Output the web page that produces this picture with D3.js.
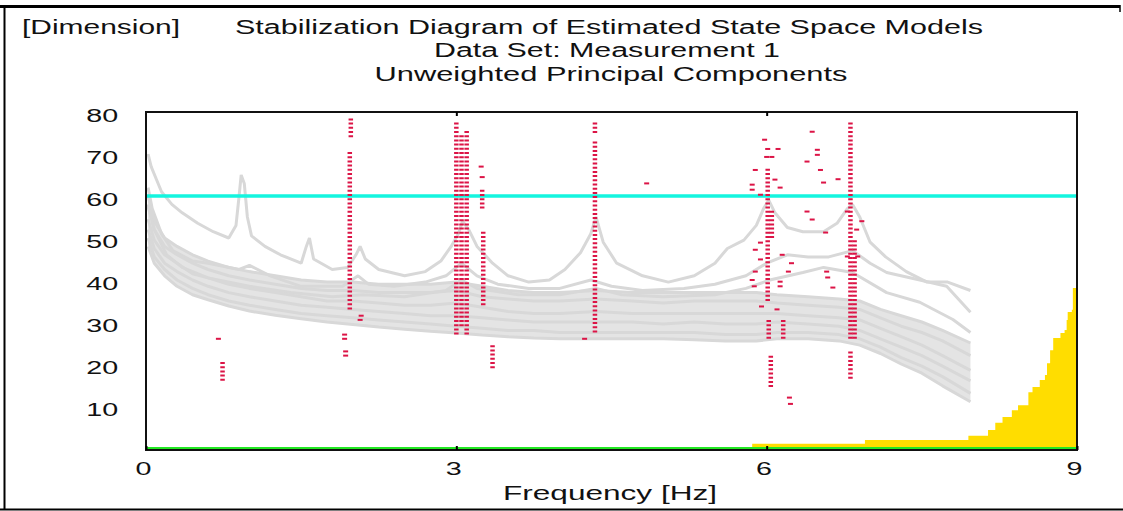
<!DOCTYPE html>
<html>
<head>
<meta charset="utf-8">
<title>Stabilization Diagram</title>
<script src="https://d3js.org/d3.v7.min.js"></script>
<style>
  body { margin: 0; background: #fff; }
  text { font-family: "Liberation Sans", Arial, sans-serif; fill: #111; }
  .axis path { display: none; }
  .axis line { stroke: #000; stroke-width: 2; }
</style>
</head>
<body>
<script>
// ---- data ----
var xTicks = [0, 3, 6, 9];
var yTicks = [10, 20, 30, 40, 50, 60, 70, 80];
var stableLevel = 60;

// highest spectrum line [Hz, dim]
var grayTop = [[0.02,70],[0.05,67],[0.1,64],[0.15,61],[0.25,58],[0.35,56],[0.5,53.5],[0.65,51.5],[0.8,50],[0.87,53],[0.9,60],[0.92,65],[0.95,63],[0.98,55],[1.02,50.5],[1.15,48],[1.3,46],[1.5,44],[1.55,48],[1.58,50],[1.62,45],[1.8,42.5],[1.95,43],[2.03,46],[2.07,48],[2.12,45],[2.25,42.5],[2.5,41],[2.7,42],[2.85,44.5],[2.95,48],[3.02,51],[3.06,54],[3.12,52],[3.2,48],[3.35,44],[3.5,41],[3.7,39.5],[3.9,40],[4.05,42.5],[4.2,46.5],[4.3,51],[4.35,55],[4.42,49],[4.55,44],[4.8,41],[5.05,39.5],[5.3,41],[5.5,44],[5.62,47.5],[5.78,49.5],[5.9,53],[5.97,57],[6.02,59],[6.08,56],[6.2,52.5],[6.35,51.5],[6.55,51.5],[6.68,53.5],[6.78,57],[6.83,58],[6.9,55],[7.0,49],[7.15,45.5],[7.35,42],[7.55,39.5],[7.75,39.5],[7.97,37.5]];
var graySecond = [[0.02,62],[0.06,57],[0.15,51],[0.26,47],[0.45,44.5],[0.6,44],[0.9,42.5],[1.0,43.5],[1.2,41],[1.5,38.5],[1.7,38.5],[1.9,38.5],[2.05,41],[2.15,39],[2.4,38.5],[2.7,39.5],[2.9,41],[3.05,44],[3.2,41],[3.4,39],[3.7,38],[4.0,38],[4.3,40],[4.5,38.5],[4.8,37.5],[5.2,38],[5.5,39],[5.8,41],[6.0,44],[6.2,46],[6.4,45.5],[6.6,45.5],[6.83,47],[7.0,44],[7.16,41.8],[7.48,40],[7.74,38.5],[7.97,32.3]];
var grayThird = [[0.02,58],[0.08,52],[0.2,46],[0.35,43],[0.6,40.5],[1.0,38.5],[1.4,37],[1.8,36],[2.1,36.5],[2.5,36],[2.9,37.5],[3.05,40],[3.2,38],[3.6,36.5],[4.0,36.5],[4.35,38],[4.6,36.5],[5.0,36],[5.5,36.5],[5.8,38],[6.03,40],[6.35,41.8],[6.55,43],[6.83,41.8],[7.16,37],[7.48,34.7],[7.8,30.6],[7.97,27.5]];

// the dense band of lower spectra: envelope and a few lines inside it
var bandFreq  = [0.02,0.08,0.18,0.3,0.45,0.6,0.8,1.0,1.25,1.5,1.75,2.0,2.25,2.5,2.75,3.0,3.25,3.5,3.75,4.0,4.35,4.7,5.0,5.3,5.6,5.9,6.1,6.4,6.7,6.9,7.1,7.3,7.5,7.7,7.97];
var bandUpper = [60,54,50,48,46,44.5,43,42,41,40,39.5,39.5,39,39,39,39.5,38.5,37.5,37,37,37.5,37,37,37,37,37,36.5,36,35.5,35,33,31.5,30,28,25];
var bandLine1 = [57.5,52,48,46,44,42.5,41,40,39,38,37.5,37.5,37,37,37,37.5,36,35.5,35,35,35.5,35,34.5,35,35,35,34.5,34,33.5,33,31,29,27.5,25.5,22];
var bandLine2 = [54.5,49.5,46,44,41.5,40.5,39,38,37,36,35,35,34.5,34,34,34.5,33.5,32.5,32,32,32.5,32,32,32,32,32,32,31.5,31,30.5,28.5,26.5,24.5,22,18.5];
var bandLine3 = [52,47.5,44,42,40,38.5,37,36,35,34,33.5,33,32.5,32,31.5,31.5,31,30.5,30,30,30,30,29.5,30,29.5,29.5,30,29.5,29,28,26,24,22,19.5,16];
var bandLine4 = [50,45.5,42.5,40,38,36.5,35,34,33,32,31.5,31,30.5,30,29.5,29,28.5,28,28,27.5,27.5,27.5,27.5,27.5,27,27,27.5,27.5,27,26,24,21.5,19.5,17,13];
var bandLower = [48,44,41,38.5,36.5,35.3,33.8,32.6,31.6,30.8,30,29.4,28.8,28.3,27.8,27.4,26.9,26.5,26.2,26,26,26,26,25.8,25.5,25.5,26,26,25.5,24.5,22.5,20,17.8,14.8,11];

// stable pole stacks: frequency, lowest dim, highest dim
var stackFreq = [0.74, 1.97, 1.98, 3.00, 3.05, 3.10, 3.25, 3.26, 3.35, 4.34, 4.34, 6.01, 6.05, 6.02, 6.04, 6.16, 6.81, 6.85, 6.81];
var stackLow  = [16, 33, 74, 27, 29, 27, 57, 34, 19, 27.5, 75, 35, 50, 26, 14.5, 26, 26, 26, 16.5];
var stackHigh = [20.5, 71, 79, 78, 75, 76, 62, 51.5, 25, 73, 78, 67, 57, 31, 22, 31, 78, 50, 23.5];

// isolated poles [Hz, dim]
var singlePoles = [[0.70,26],[1.92,27],[1.92,26],[1.93,23],[1.93,22],[2.07,30.5],[2.08,31.5],[3.24,67],[3.25,64.5],[4.24,26],[4.84,63],
  [5.98,73.4],[6.01,71.2],[6.11,71.2],[6.00,69.3],[6.05,69.3],[5.89,66.2],[5.86,62.7],[5.86,61.5],[5.94,60.3],[6.08,63.9],[6.13,62],
  [6.44,75.3],[6.49,71],[6.49,69.8],[6.39,68.2],[6.52,66.2],[6.55,63.2],[6.69,64],[6.39,56.3],[6.44,54.4],[6.57,51.3],
  [5.94,48.9],[5.89,47.2],[5.94,44.9],[5.89,42],[5.86,40],[5.88,38.5],[6.15,46],[6.24,44],[6.21,42],[6.13,39.6],[6.13,38.5],
  [6.58,42],[6.59,40.6],[6.64,38.2],[5.95,33.7],[6.1,33],[6.22,12],[6.23,10.5],[6.92,54],[6.87,52],[6.78,56.3],[6.78,45.6],[6.88,45.6]];

// yellow step area
var yellowFreq = [5.86, 6.95, 7.95, 8.14, 8.21, 8.28, 8.37, 8.43, 8.53, 8.57, 8.64, 8.69, 8.71, 8.74, 8.77, 8.84, 8.88, 8.90, 8.91, 8.95, 8.96, 9.0];
var yellowDim  = [1, 1.9, 2.9, 4.3, 6, 7.4, 9, 10.2, 13.3, 14.5, 16.2, 17.4, 20.2, 23.3, 26.2, 27.4, 28.1, 30.5, 32.4, 32.9, 38.1, 38.1];

// ---- drawing ----
var W = 1123, H = 511;
var svg = d3.select("body").append("svg")
    .attr("width", W).attr("height", H);
svg.append("rect").attr("width", W).attr("height", H).attr("fill", "#fff");

var x = d3.scaleLinear().domain([0, 9]).range([146, 1077]);
var y = d3.scaleLinear().domain([0, 80]).range([448, 112]);

var line = d3.line().x(function(d){ return x(d[0]); }).y(function(d){ return y(d[1]); });
var gray = "#d8d8d8";

// band fill between envelope lines
var bandArea = d3.area()
    .x(function(d){ return x(d[0]); })
    .y0(function(d){ return y(d[2]); })
    .y1(function(d){ return y(d[1]); });
svg.append("path")
    .datum(bandFreq.map(function(f, i){ return [f, bandUpper[i], bandLower[i]]; }))
    .attr("d", bandArea)
    .attr("fill", "#e4e4e4");

var grayLines = [grayThird, graySecond, grayTop];
[bandUpper, bandLine1, bandLine2, bandLine3, bandLine4, bandLower].forEach(function(b) {
    grayLines.push(bandFreq.map(function(f, i){ return [f, b[i]]; }));
});

svg.append("g").selectAll("path").data(grayLines).enter()
    .append("path")
    .attr("d", line)
    .attr("fill", "none")
    .attr("stroke", gray)
    .attr("stroke-width", 3)
    .attr("stroke-linejoin", "bevel");

// cyan stability threshold
svg.append("line")
    .attr("x1", x(0)).attr("x2", x(9))
    .attr("y1", y(stableLevel)).attr("y2", y(stableLevel))
    .attr("stroke", "#14f5df").attr("stroke-width", 3.5);

// red stacks
var red = "#dc1446";
svg.append("g").selectAll("line").data(stackFreq).enter()
    .append("line")
    .attr("x1", function(d){ return x(d); })
    .attr("x2", function(d){ return x(d); })
    .attr("y1", function(d, i){ return y(stackLow[i]); })
    .attr("y2", function(d, i){ return y(stackHigh[i]); })
    .attr("stroke", red)
    .attr("stroke-width", 4.5)
    .attr("stroke-dasharray", "2 2.2");

svg.append("g").selectAll("rect").data(singlePoles).enter()
    .append("rect")
    .attr("x", function(d){ return x(d[0]) - 2.5; })
    .attr("y", function(d){ return y(d[1]) - 1; })
    .attr("width", 5).attr("height", 2)
    .attr("fill", red);

// yellow area
var area = d3.area()
    .x(function(d){ return x(d[0]); })
    .y0(y(0))
    .y1(function(d){ return y(d[1]); })
    .curve(d3.curveStepAfter);
svg.append("path")
    .datum(yellowFreq.map(function(f, i){ return [f, yellowDim[i]]; }))
    .attr("d", area)
    .attr("fill", "#ffdd00");

// green base line
svg.append("line")
    .attr("x1", x(0)).attr("x2", x(9))
    .attr("y1", y(0)).attr("y2", y(0))
    .attr("stroke", "#22e822").attr("stroke-width", 2);

// plot frame
svg.append("path")
    .attr("d", "M" + x(0) + "," + (y(0) + 2) + "V" + y(80) + "H" + x(9) + "V" + (y(0) + 2) + "Z")
    .attr("fill", "none").attr("stroke", "#111").attr("stroke-width", 2);

// axes
var xAxis = svg.append("g")
    .attr("class", "axis")
    .attr("transform", "translate(0," + (y(0) + 2) + ")")
    .call(d3.axisBottom(x).tickValues(xTicks).tickSizeInner(-4).tickSizeOuter(0).tickPadding(12).tickFormat(d3.format("d")));
xAxis.selectAll("text")
    .attr("x", -2)
    .attr("transform", "scale(1.55,1)")
    .style("font-size", "18.5px");

svg.append("g")
    .attr("class", "axis")
    .attr("transform", "translate(0," + y(80) + ")")
    .call(d3.axisTop(x).tickValues([3, 6]).tickSizeInner(-4).tickSizeOuter(0).tickFormat(""));

var yAxis = svg.append("g")
    .attr("class", "axis")
    .attr("transform", "translate(" + x(0) + ",0)")
    .call(d3.axisLeft(y).tickValues(yTicks).tickSize(0).tickPadding(18));
yAxis.selectAll("text")
    .attr("dy", "0.5em")
    .attr("transform", "scale(1.55,1)")
    .style("font-size", "18.5px");

// titles
function label(t, cx, by, len, anchor) {
    svg.append("text")
        .attr("x", cx).attr("y", by)
        .attr("text-anchor", anchor || "middle")
        .attr("textLength", len)
        .attr("lengthAdjust", "spacingAndGlyphs")
        .style("font-size", "20px")
        .text(t);
}
label("[Dimension]", 22, 34, 158, "start");
label("Stabilization Diagram of Estimated State Space Models", 609, 34, 748);
label("Data Set: Measurement 1", 607, 57, 346);
label("Unweighted Principal Components", 611, 81, 473);
label("Frequency [Hz]", 610, 500, 214);

// outer frame
svg.append("line").attr("x1", 0).attr("x2", 1120).attr("y1", 6.5).attr("y2", 6.5).attr("stroke", "#000").attr("stroke-width", 3);
svg.append("line").attr("x1", 4.5).attr("x2", 4.5).attr("y1", 6).attr("y2", 510).attr("stroke", "#000").attr("stroke-width", 2);
svg.append("line").attr("x1", 0).attr("x2", W).attr("y1", 509.5).attr("y2", 509.5).attr("stroke", "#000").attr("stroke-width", 2);
svg.append("line").attr("x1", 1120).attr("x2", 1120).attr("y1", 5).attr("y2", 12).attr("stroke", "#000").attr("stroke-width", 1.5);
</script>
</body>
</html>
